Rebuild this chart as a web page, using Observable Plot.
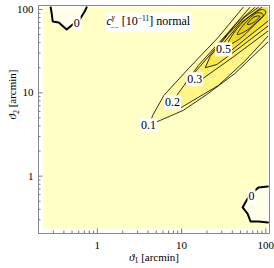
<!DOCTYPE html>
<html><head><meta charset="utf-8">
<script src="https://cdn.jsdelivr.net/npm/d3@7"></script>
<script src="https://cdn.jsdelivr.net/npm/@observablehq/plot@0.6"></script>
<style>body{margin:0;background:#fff}svg{display:block}</style>
</head><body><div id="chart"></div>
<script>
// ---- data ----
const thetaMin = 0.23, thetaMax = 106;           // extent of the shaded data region
const majorTicks = [1, 10, 100];
const minorTicks = [0.3,0.4,0.5,0.6,0.7,0.8,0.9,2,3,4,5,6,7,8,9,20,30,40,50,60,70,80,90];
const levels = [0.1, 0.2, 0.3, 0.4, 0.5, 0.6, 0.7, 0.8];
const bandColors = ["#fffaa6", "#fff584", "#fdf064", "#f9e94a", "#f3e232", "#eddb1e", "#e6d310", "#dfcb08"];
const baseColor = "#ffffc6", negColor = "#ffffea";
// contour lines, [theta1, theta2]
const zeroTopLeft = [[0.279,106],[0.287,89.5],[0.295,71.8],[0.348,69.8],[0.432,57.5],[0.509,66.1],[0.617,75.9],[0.706,94.6],[0.746,106]];
const zeroBottomRight = [[106,0.752],[81.8,0.731],[67.6,0.619],[59.0,0.511],[53.0,0.421],[60.7,0.356],[65.8,0.286],[81.8,0.286],[106,0.278]];
const c01 = [[106,40.7],[42.7,17.0],[19.95,9.55],[10.5,6.17],[5.62,4.68],[4.17,4.17],[4.53,5.35],[6.17,9.33],[12.3,19.95],[26.9,45.7],[53.7,106]];
const c02 = [[106,47.9],[56.2,24.0],[27.5,12.3],[9.77,6.61],[7.41,6.92],[8.51,8.91],[15.85,21.4],[35.5,52.5],[64.6,106]];
const c03 = [[106,55.0],[39.8,26.3],[17.8,14.8],[12.6,12.6],[14.5,17.8],[25.1,33.9],[44.7,67.6],[74.1,106]];
const c04 = [[106,63.1],[50.1,35.5],[26.3,21.9],[19.1,20.0],[21.9,27.5],[35.5,50.1],[56.2,81.3],[81.3,106]];
const c05 = [[106,72.4],[63.1,47.9],[38.0,31.6],[27.5,28.8],[31.6,39.8],[50.1,69.2],[89.1,106]];
const c06 = [[35.5,38.0],[41.7,52.5],[63.1,81.3],[91.2,100],[100,93.3],[70.8,63.1],[47.9,43.7]];
const c07 = [[45.7,50.1],[55.0,66.1],[79.4,91.2],[93.3,87.1],[72.4,66.1],[57.5,55.0]];
const c08 = [[60.3,66.1],[72.4,81.3],[85.1,83.2],[70.8,69.2]];
const openContours = [c01, c02, c03, c04, c05];
const closedContours = [c06, c07, c08];
const labelText = ["0.1", "0.2", "0.3", "0.5", "0", "0"];
const labelTheta1 = [4.06, 7.82, 14.3, 31.5, 0.568, 67.7];
const labelTheta2 = [4.06, 7.66, 14.5, 33.1, 67.9, 0.571];
const titleText = "cγ−− [10−11] normal";
const xLabel = "ϑ1 [arcmin]", yLabel = "ϑ2 [arcmin]";

const labels = labelText.map((t, i) => ({t, x: labelTheta1[i], y: labelTheta2[i]}));
const P = d => d[0], Q = d => d[1];
const frameW = 231, frameH = 228;
const serif = "'Liberation Serif','Times New Roman',serif";

const marks = [
  Plot.rect([{x1: thetaMin, x2: thetaMax, y1: thetaMin, y2: thetaMax}], {x1: "x1", x2: "x2", y1: "y1", y2: "y2", fill: baseColor}),
  Plot.line(zeroTopLeft, {x: P, y: Q, fill: negColor, stroke: null}),
  Plot.line(zeroBottomRight, {x: P, y: Q, fill: negColor, stroke: null}),
];
openContours.forEach((c, i) => {
  marks.push(Plot.line(c.concat([[thetaMax, thetaMax]]), {x: P, y: Q, fill: bandColors[i], stroke: null, curve: "linear"}));
});
closedContours.forEach((c, j) => {
  marks.push(Plot.line(c, {x: P, y: Q, fill: bandColors[openContours.length + j], stroke: null, curve: "catmull-rom-closed"}));
});
openContours.forEach(c => marks.push(Plot.line(c, {x: P, y: Q, stroke: "#000", strokeWidth: 0.8, curve: "linear"})));
closedContours.forEach(c => marks.push(Plot.line(c, {x: P, y: Q, stroke: "#000", strokeWidth: 0.8, curve: "catmull-rom-closed"})));
marks.push(
  Plot.line(zeroTopLeft, {x: P, y: Q, stroke: "#000", strokeWidth: 2}),
  Plot.line(zeroBottomRight, {x: P, y: Q, stroke: "#000", strokeWidth: 2}),
  Plot.text(labels, {x: "x", y: "y", text: "t", fontSize: 12, fill: "#000", ariaDescription: "boxed"}),
  Plot.text([titleText], {frameAnchor: "top-left", dx: 68, dy: 11, textAnchor: "start", fontSize: 12, fill: "#000", ariaDescription: "title"}),
  Plot.text([xLabel], {frameAnchor: "bottom", dy: 27, fontSize: 11, fill: "#000", ariaDescription: "xlabel"}),
  Plot.text([yLabel], {frameAnchor: "left", dx: -26, rotate: -90, fontSize: 11, fill: "#000", ariaDescription: "ylabel"}),
  Plot.ruleX(majorTicks, {x: d => d, insetTop: frameH - 4.5, stroke: "#777"}),
  Plot.ruleX(minorTicks, {x: d => d, insetTop: frameH - 2.5, stroke: "#777"}),
  Plot.ruleY(majorTicks, {y: d => d, insetRight: frameW - 4.5, stroke: "#777"}),
  Plot.ruleY(minorTicks, {y: d => d, insetRight: frameW - 2.5, stroke: "#777"}),
  Plot.axisX(majorTicks, {tickSize: 0, tickPadding: 8, tickFormat: d => String(d), fontSize: 11}),
  Plot.axisY(majorTicks, {tickSize: 0, tickPadding: 5, tickFormat: d => String(d), fontSize: 11}),
  Plot.frame({stroke: "#888", strokeWidth: 1})
);

const chart = Plot.plot({
  width: 274, height: 268,
  marginLeft: 38, marginRight: 5, marginTop: 5, marginBottom: 35,
  style: {fontFamily: serif, fontSize: "11px", background: "#fff", color: "#000"},
  x: {type: "log", domain: [0.2, 110.6], label: null},
  y: {type: "log", domain: [0.205, 111.7], label: null},
  marks
});
document.getElementById("chart").appendChild(chart);

// rich text (sub/superscripts) and white label boxes
const NS = "http://www.w3.org/2000/svg";
function rich(el, parts) {
  el.textContent = "";
  for (const p of parts) {
    const t = document.createElementNS(NS, "tspan");
    t.textContent = p.t;
    if (p.dx != null) t.setAttribute("dx", p.dx);
    if (p.dy != null) t.setAttribute("dy", p.dy);
    if (p.size) t.setAttribute("font-size", p.size);
    if (p.it) t.setAttribute("font-style", "italic");
    el.appendChild(t);
  }
}
function box(el, pad) {
  const b = el.getBBox();
  const r = document.createElementNS(NS, "rect");
  r.setAttribute("x", b.x - pad); r.setAttribute("y", b.y - pad + 1);
  r.setAttribute("width", b.width + 2 * pad); r.setAttribute("height", b.height + 2 * pad - 2);
  r.setAttribute("fill", "#fff");
  const tr = el.getAttribute("transform"); if (tr) r.setAttribute("transform", tr);
  el.parentNode.insertBefore(r, el);
}
const svg = d3.select(chart);
svg.selectAll("g[aria-description=boxed] text").each(function() { box(this, 1); });
const title = svg.select("g[aria-description=title] text").node();
rich(title, [{t: "c", it: true}, {t: "γ", it: true, size: 7.5, dy: -5}, {t: "−−", size: 7.5, dx: -4.5, dy: 9.5}, {t: " [10", dy: -4.5}, {t: "−11", size: 7.5, dy: -4}, {t: "] normal", dy: 4}]);
box(title, 1.5);
rich(svg.select("g[aria-description=xlabel] text").node(), [{t: "ϑ", it: true}, {t: "1", size: 8, dy: 2.5}, {t: " [arcmin]", dy: -2.5}]);
rich(svg.select("g[aria-description=ylabel] text").node(), [{t: "ϑ", it: true}, {t: "2", size: 8, dy: 2.5}, {t: " [arcmin]", dy: -2.5}]);
</script></body></html>
